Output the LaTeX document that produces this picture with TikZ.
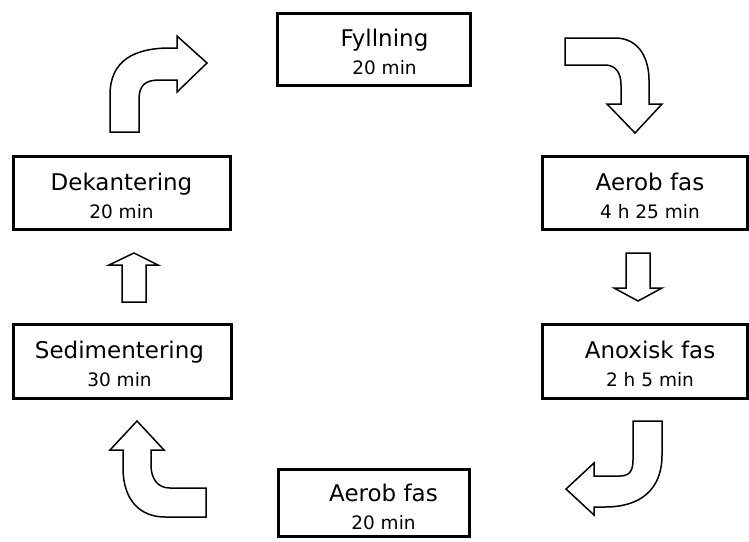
\documentclass[tikz,border=0pt]{standalone}
\usepackage{fontspec}
\setmainfont{DejaVu Sans}
\newcommand{\tid}[1]{{\fontsize{18.5}{28}\selectfont #1}}
\begin{document}
\begin{tikzpicture}[x=1pt,y=-1pt,line join=miter,
	fas/.style={draw,line width=3pt,inner sep=0pt},
	fastext/.style={align=center,inner sep=0pt,font=\fontsize{23}{28}\selectfont},
	pil/.style={draw,fill=white,line width=1.5pt}]
	\useasboundingbox (0,0) rectangle (749,541);
	% rutor
	\node[fas,minimum width=193pt,minimum height=72pt] (fyllning) at (373.5,49) {};
	\node[fas,minimum width=205pt,minimum height=73pt] (aerob1) at (644.5,192.5) {};
	\node[fas,minimum width=205pt,minimum height=74pt] (anoxisk) at (644.5,361) {};
	\node[fas,minimum width=191pt,minimum height=67pt] (aerob2) at (373.5,502.5) {};
	\node[fas,minimum width=217pt,minimum height=73pt] (dekantering) at (121.5,192.5) {};
	\node[fas,minimum width=218pt,minimum height=74pt] (sedimentering) at (122,361) {};
	% texter
	\node[fastext] (fyllningtxt) at (384.5,52) {Fyllning\\\tid{20 min}};
	\node[fastext] (aerob1txt) at (650,195.5) {Aerob fas\\\tid{4 h 25 min}};
	\node[fastext] (anoxisktxt) at (650,364) {Anoxisk fas\\\tid{2 h 5 min}};
	\node[fastext] (aerob2txt) at (383.5,507) {Aerob fas\\\tid{20 min}};
	\node[fastext] (dekanteringtxt) at (121.5,195.5) {Dekantering\\\tid{20 min}};
	\node[fastext] (sedimenteringtxt) at (119.5,364) {Sedimentering\\\tid{30 min}};
	% pilar
	\draw[pil] (565,38)--(615,38) .. controls (640,38) and (649,60) .. (649,80)--(649,104)--(662,104)--(635,133)--(607,104)--(621,104)--(621,85) .. controls (621,72) and (615,65) .. (605,65)--(565,65)--cycle;
	\draw[pil] (626,253)--(650,253)--(650,288)--(662,288)--(638,301)--(614,288)--(626,288)--cycle;
	\draw[pil] (633,421)--(662,421)--(662,455) .. controls (662,490) and (640,507) .. (605,507)--(594,507)--(594,515)--(566,489)--(594,463)--(594,476)--(620,476) .. controls (630,476) and (633,470) .. (633,460)--cycle;
	\draw[pil] (206,488)--(170,488) .. controls (157,488) and (151,478) .. (151,465)--(151,450)--(164,450)--(137,421)--(110,450)--(123,450)--(123,468) .. controls (123,500) and (140,517) .. (165,517)--(206,517)--cycle;
	\draw[pil] (122,302)--(146,302)--(146,265)--(158,265)--(134,253)--(109,265)--(122,265)--cycle;
	\draw[pil] (110,132)--(110,95) .. controls (110,60) and (135,48) .. (170,48)--(177,48)--(177,36)--(207,63)--(177,92)--(177,80)--(160,80) .. controls (145,80) and (139,85) .. (139,100)--(139,132)--cycle;
\end{tikzpicture}
\end{document}
